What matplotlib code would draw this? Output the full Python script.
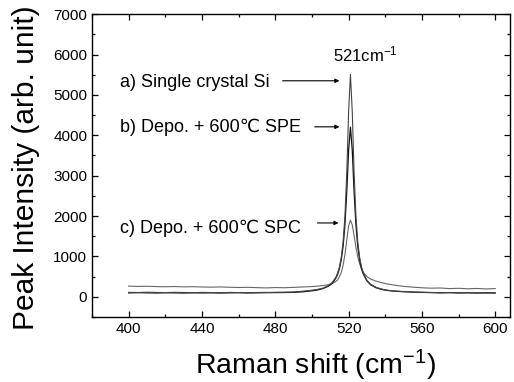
import numpy as np
import matplotlib
matplotlib.use("Agg")
import matplotlib.pyplot as plt
from matplotlib.ticker import MultipleLocator

plt.rcParams["font.family"] = ["Liberation Sans", "DejaVu Sans"]
plt.rcParams["mathtext.default"] = "regular"

# ============================================================
# Data
# ============================================================

shift = [400, 405, 410, 415, 420, 425, 430, 435, 440, 445, 450, 455, 460, 465,
         470, 475, 480, 485, 490, 495, 500, 503, 506, 509, 511, 513, 514, 515,
         516, 517, 518, 519, 520, 521, 522, 523, 524, 525, 526, 527, 528, 530,
         532, 535, 538, 541, 545, 550, 555, 560, 565, 570, 575, 580, 585, 590,
         595, 600]

single_si = [112, 108, 115, 110, 106, 112, 109, 104, 110, 107, 103, 110, 106, 102,
             108, 110, 112, 115, 120, 140, 165, 185, 215, 280, 355, 480, 590, 740,
             980, 1360, 2000, 3070, 4580, 5510, 4580, 3070, 2000, 1360, 985, 750,
             595, 410, 313, 235, 194, 165, 145, 131, 120, 114, 108, 103, 106, 99,
             102, 96, 99, 95]

spe = [98, 104, 100, 96, 102, 99, 95, 101, 97, 100, 96, 99, 103, 97,
       100, 104, 106, 108, 112, 125, 150, 170, 205, 265, 330, 460, 560, 700,
       920, 1250, 1780, 2600, 3630, 4200, 3630, 2600, 1780, 1250, 920, 705,
       565, 395, 300, 225, 185, 160, 140, 128, 118, 110, 106, 100, 104, 98,
       101, 96, 99, 97]

spc = [265, 258, 262, 255, 250, 256, 248, 252, 245, 240, 246, 238, 232, 236,
       228, 222, 230, 226, 235, 245, 255, 265, 280, 300, 330, 380, 420, 500,
       600, 780, 1050, 1400, 1760, 1900, 1780, 1520, 1230, 990, 820, 700,
       610, 500, 440, 390, 350, 320, 290, 260, 240, 225, 215, 220, 205, 212,
       200, 208, 196, 205]

# ============================================================
# Plot
# ============================================================

fig = plt.figure(figsize=(5.14, 3.82), dpi=100)
ax = fig.add_axes([0.179, 0.170, 0.813, 0.793])

ax.plot(shift, spc, color="#666666", lw=0.8)
ax.plot(shift, spe, color="#111111", lw=0.9)
ax.plot(shift, single_si, color="#444444", lw=0.8)

ax.set_xlim(380, 608)
ax.set_ylim(-500, 7000)
ax.xaxis.set_major_locator(MultipleLocator(40))
ax.xaxis.set_minor_locator(MultipleLocator(20))
ax.yaxis.set_major_locator(MultipleLocator(1000))
ax.yaxis.set_minor_locator(MultipleLocator(500))
ax.tick_params(which="both", direction="in", top=True, right=True,
               labelsize=11, width=0.9)
ax.tick_params(which="major", length=4.5)
ax.tick_params(which="minor", length=2.5)
for s in ax.spines.values():
    s.set_linewidth(1.0)

ax.set_xlabel("Raman shift (cm$^{-1}$)", fontsize=20.5)
ax.set_ylabel("Peak Intensity (arb. unit)", fontsize=21.5)
ax.xaxis.set_label_coords(0.535, -0.102)
ax.yaxis.set_label_coords(-0.124, 0.492)

ax.text(529, 6000, "521cm$^{-1}$", fontsize=12, ha="center", va="center")

arrow = dict(arrowstyle="-|>", lw=0.8, color="black", mutation_scale=6,
             shrinkA=0, shrinkB=0)
ax.text(395.5, 5300, "a) Single crystal Si", fontsize=13, va="center")
ax.annotate("", xy=(515, 5350), xytext=(484, 5350), arrowprops=arrow)
ax.text(395.5, 4200, "b) Depo. + 600\u2103 SPE", fontsize=13, va="center")
ax.annotate("", xy=(515, 4210), xytext=(501.5, 4210), arrowprops=arrow)
ax.text(395.5, 1700, "c) Depo. + 600\u2103 SPC", fontsize=13, va="center")
ax.annotate("", xy=(514.5, 1830), xytext=(503, 1830), arrowprops=arrow)

fig.savefig("out.png", dpi=100)
